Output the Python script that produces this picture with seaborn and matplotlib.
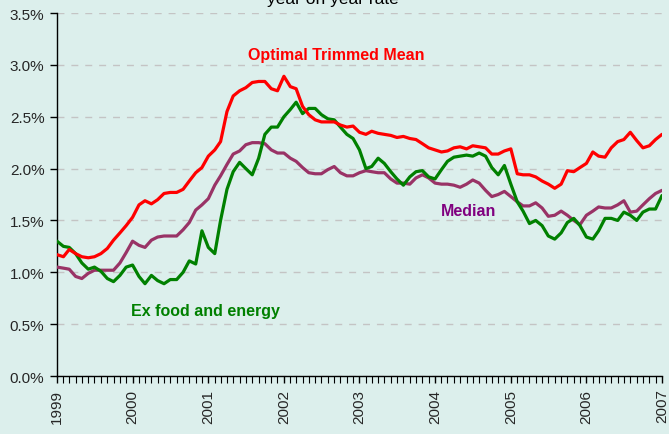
import pandas as pd
import matplotlib
matplotlib.use("Agg")
import matplotlib.pyplot as plt
import matplotlib.dates as mdates
from matplotlib.ticker import FuncFormatter, MultipleLocator
import seaborn as sns

# monthly observations, Jan 1999 .. Jan 2007 (per cent, year-on-year)
months = pd.date_range("1999-01-01", periods=97, freq="MS")

trimmed_mean = [
    1.17, 1.15, 1.22, 1.18, 1.15, 1.14, 1.15, 1.18, 1.23, 1.31, 1.38, 1.45,
    1.53, 1.65, 1.69, 1.66, 1.70, 1.76, 1.77, 1.77, 1.80, 1.88, 1.96, 2.01,
    2.12, 2.18, 2.26, 2.55, 2.70, 2.75, 2.78, 2.83, 2.84, 2.84, 2.77, 2.75,
    2.89, 2.79, 2.77, 2.60, 2.52, 2.47, 2.45, 2.45, 2.45, 2.42, 2.40, 2.41,
    2.35, 2.33, 2.36, 2.34, 2.33, 2.32, 2.30, 2.31, 2.29, 2.28, 2.24, 2.20,
    2.18, 2.16, 2.17, 2.20, 2.21, 2.19, 2.22, 2.21, 2.20, 2.14, 2.14, 2.17,
    2.19, 1.95, 1.94, 1.94, 1.92, 1.88, 1.85, 1.81, 1.85, 1.98, 1.97, 2.01,
    2.05, 2.16, 2.12, 2.11, 2.20, 2.26, 2.28, 2.35, 2.27, 2.20, 2.22, 2.28,
    2.33,
]

ex_food_energy = [
    1.30, 1.25, 1.24, 1.18, 1.09, 1.03, 1.05, 1.01, 0.94, 0.91, 0.97, 1.05,
    1.07, 0.96, 0.89, 0.97, 0.92, 0.89, 0.93, 0.93, 1.00, 1.11, 1.08, 1.40,
    1.24, 1.18, 1.50, 1.80, 1.97, 2.06, 2.00, 1.94, 2.10, 2.33, 2.40, 2.40,
    2.50, 2.57, 2.64, 2.53, 2.58, 2.58, 2.52, 2.48, 2.47, 2.40, 2.33, 2.29,
    2.18, 2.00, 2.02, 2.10, 2.05, 1.97, 1.90, 1.84, 1.92, 1.97, 1.98, 1.92,
    1.90, 1.99, 2.07, 2.11, 2.12, 2.13, 2.12, 2.15, 2.12, 2.01, 1.94, 2.03,
    1.85, 1.68, 1.59, 1.47, 1.50, 1.45, 1.35, 1.32, 1.38, 1.48, 1.52, 1.45,
    1.34, 1.32, 1.40, 1.52, 1.52, 1.50, 1.58, 1.55, 1.50, 1.58, 1.61, 1.61,
    1.74,
]

median = [
    1.05, 1.04, 1.03, 0.96, 0.94, 0.99, 1.02, 1.02, 1.02, 1.02, 1.09, 1.19,
    1.30, 1.26, 1.24, 1.31, 1.34, 1.35, 1.35, 1.35, 1.41, 1.48, 1.60, 1.65,
    1.71, 1.84, 1.93, 2.04, 2.14, 2.17, 2.23, 2.25, 2.25, 2.24, 2.18, 2.15,
    2.15, 2.10, 2.07, 2.01, 1.96, 1.95, 1.95, 1.99, 2.02, 1.96, 1.93, 1.93,
    1.96, 1.98, 1.97, 1.96, 1.96, 1.90, 1.86, 1.86, 1.85, 1.91, 1.94, 1.91,
    1.86, 1.85, 1.85, 1.84, 1.82, 1.85, 1.89, 1.86, 1.79, 1.73, 1.75, 1.78,
    1.73, 1.68, 1.64, 1.64, 1.67, 1.62, 1.54, 1.55, 1.59, 1.55, 1.50, 1.46,
    1.55, 1.59, 1.63, 1.62, 1.62, 1.65, 1.69, 1.58, 1.59, 1.65, 1.71, 1.76,
    1.79,
]

df = pd.DataFrame({
    "date": months,
    "Optimal Trimmed Mean": trimmed_mean,
    "Ex food and energy": ex_food_energy,
    "Median": median,
})

bg = "#dcefec"
sns.set_style("white", {"axes.facecolor": bg, "figure.facecolor": bg})
plt.rcParams["font.family"] = ["Liberation Sans", "DejaVu Sans"]

fig = plt.figure(figsize=(6.69, 4.35), dpi=100)
ax = fig.add_axes([0.0852, 0.1333, 0.9043, 0.8345])

line_colors = {
    "Optimal Trimmed Mean": "#ff0000",
    "Ex food and energy": "#008000",
    "Median": "#993366",
}
for name in ["Median", "Ex food and energy", "Optimal Trimmed Mean"]:
    sns.lineplot(data=df, x="date", y=name, ax=ax, color=line_colors[name],
                 linewidth=2.3, zorder=3)

ax.set_ylim(0, 3.5)
ax.set_xlim(pd.Timestamp("1999-01-01"), pd.Timestamp("2007-01-01"))
ax.yaxis.set_major_locator(MultipleLocator(0.5))
ax.yaxis.set_major_formatter(FuncFormatter(lambda v, p: f"{v:.1f}%"))
ax.xaxis.set_major_locator(mdates.YearLocator())
ax.xaxis.set_major_formatter(mdates.DateFormatter("%Y"))
ax.xaxis.set_minor_locator(mdates.MonthLocator())

ax.grid(axis="y", color="#c4c4c4", linestyle=(0, (5, 5)), linewidth=1.0)
ax.set_axisbelow(True)
for s in ["top", "right"]:
    ax.spines[s].set_visible(False)
for s in ["left", "bottom"]:
    ax.spines[s].set_color("black")
    ax.spines[s].set_linewidth(1.0)

ax.tick_params(axis="y", which="major", direction="out", length=5, width=1,
               color="black", labelsize=11, pad=4, left=True)
ax.tick_params(axis="x", which="major", direction="out", length=5, width=1,
               color="black", labelsize=11, labelrotation=90, pad=4, bottom=True)
ax.tick_params(axis="x", which="minor", direction="out", length=5, width=0.8,
               color="black", bottom=True)
ax.set_xlabel("")
ax.set_ylabel("")

# series labels placed next to their lines
ax.text(pd.Timestamp("2002-09-10"), 3.10, "Optimal Trimmed Mean", color="#ff0000",
        fontsize=11.5, fontweight="bold", ha="center", va="center")
ax.text(pd.Timestamp("2000-12-20"), 0.63, "Ex food and energy", color="#008000",
        fontsize=11.5, fontweight="bold", ha="center", va="center")
ax.text(pd.Timestamp("2004-06-10"), 1.60, "Median", color="#800080",
        fontsize=11.5, fontweight="bold", ha="center", va="center")

# title sits partly above the top edge, as in the source chart
fig.text(333 / 669, 1 - 4 / 435, "year on year rate", ha="center", va="baseline",
         fontsize=12.5, color="black")

fig.savefig("out.png", dpi=100, facecolor=bg)
